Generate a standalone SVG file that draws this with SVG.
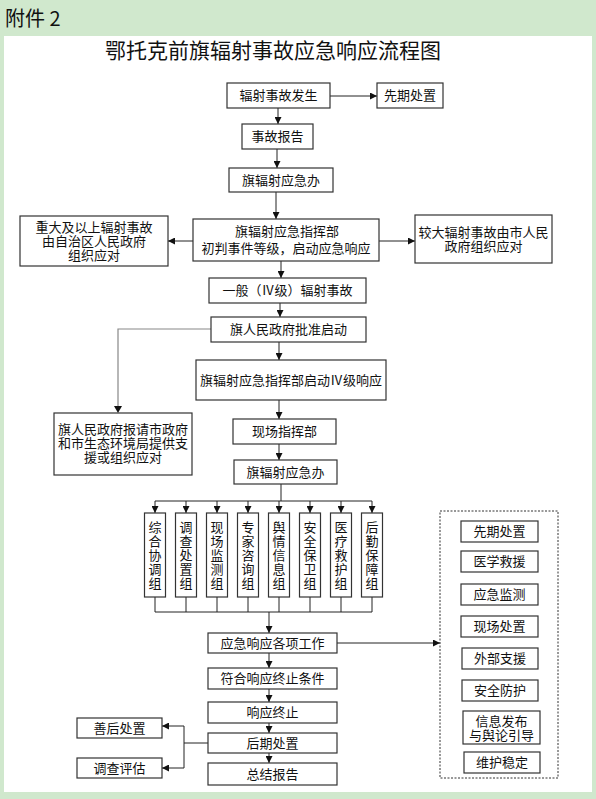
<svg xmlns="http://www.w3.org/2000/svg" width="596" height="799" viewBox="0 0 596 799">
<defs>
<marker id="ah" viewBox="0 0 10 10" refX="10" refY="5" markerWidth="7" markerHeight="7" markerUnits="userSpaceOnUse" orient="auto">
<path d="M0,0 L10,5 L0,10 z" fill="#111"/>
</marker>
<style>
.b{fill:#fff;stroke:#333;stroke-width:1.2}
.t{font-family:"Liberation Serif","Noto Sans CJK SC",serif;font-size:13px;fill:#111;text-anchor:middle;dominant-baseline:central}
.c{fill:none;stroke:#222;stroke-width:1}
.a{fill:none;stroke:#222;stroke-width:1;marker-end:url(#ah)}
.g{fill:none;stroke:#888;stroke-width:1.2}
</style>
</defs>
<rect x="0" y="0" width="596" height="799" fill="#d0e8cd"/>
<rect x="4" y="36" width="588" height="756" fill="#fff"/>
<text x="5" y="26" style="font-family:'Noto Sans CJK SC',sans-serif;font-size:20px;fill:#111">附件 2</text>
<text x="273" y="51" style="font-family:'Liberation Serif','Noto Sans CJK SC',serif;font-size:21px;fill:#111;text-anchor:middle;dominant-baseline:central">鄂托克前旗辐射事故应急响应流程图</text>

<g id="connectors">
<path class="a" d="M330,96 H377"/>
<path class="a" d="M278,108 V124"/>
<path class="a" d="M277,149 V168"/>
<path class="a" d="M276,192 V219"/>
<path class="a" d="M193,241 H168"/>
<path class="a" d="M379,241 H415"/>
<path class="a" d="M281,261 V278"/>
<path class="a" d="M280,303 V317"/>
<path class="g" d="M211,329 H118 V406"/>
<path d="M114,406 L118,413 L122,406 z" fill="#111"/>
<path class="a" d="M279,342 V360"/>
<path class="a" d="M279,400 V419"/>
<path class="a" d="M279,444 V460"/>
<path class="c" d="M281,484 V501 M155,501 H372"/>
<path class="a" d="M155,501 V513"/>
<path class="a" d="M186,501 V513"/>
<path class="a" d="M217,501 V513"/>
<path class="a" d="M248,501 V513"/>
<path class="a" d="M279,501 V513"/>
<path class="a" d="M310,501 V513"/>
<path class="a" d="M341,501 V513"/>
<path class="a" d="M372,501 V513"/>
<path class="c" d="M155,597 V612 M186,597 V612 M217,597 V612 M248,597 V612 M279,597 V612 M310,597 V612 M341,597 V612 M372,597 V612 M155,612 H372"/>
<path class="a" d="M269,612 V633"/>
<path class="a" d="M337,643 H440"/>
<path class="a" d="M269,653 V668"/>
<path class="a" d="M269,689 V702"/>
<path class="a" d="M269,723 V733"/>
<path class="a" d="M269,753 V763"/>
<path class="c" d="M208,743 H184 M184,726 V768"/>
<path class="a" d="M184,726 H162"/>
<path class="a" d="M184,768 H162"/>
</g>

<g id="n1"><rect class="b" x="227" y="83" width="103" height="25"/><text class="t" x="278.5" y="95.5">辐射事故发生</text></g>
<g id="n2"><rect class="b" x="377" y="83" width="66" height="25"/><text class="t" x="410" y="95.5">先期处置</text></g>
<g id="n3"><rect class="b" x="242" y="124" width="71" height="25"/><text class="t" x="277.5" y="136.5">事故报告</text></g>
<g id="n4"><rect class="b" x="229" y="168" width="104" height="24"/><text class="t" x="281" y="180">旗辐射应急办</text></g>
<g id="n5"><rect class="b" x="193" y="219" width="186" height="42"/><text class="t" x="287" y="231">旗辐射应急指挥部</text><text class="t" x="286" y="248">初判事件等级，启动应急响应</text></g>
<g id="n6"><rect class="b" x="20" y="216" width="148" height="50"/><text class="t" x="94" y="227">重大及以上辐射事故</text><text class="t" x="94" y="241">由自治区人民政府</text><text class="t" x="94" y="255">组织应对</text></g>
<g id="n7"><rect class="b" x="415" y="215" width="137" height="48"/><text class="t" x="483.5" y="232">较大辐射事故由市人民</text><text class="t" x="483.5" y="246">政府组织应对</text></g>
<g id="n8"><rect class="b" x="209" y="278" width="157" height="25"/><text class="t" x="287.5" y="290.5">一般（Ⅳ级）辐射事故</text></g>
<g id="n9"><rect class="b" x="211" y="317" width="155" height="25"/><text class="t" x="288.5" y="329.5">旗人民政府批准启动</text></g>
<g id="n10"><rect class="b" x="54" y="413" width="138" height="62"/><text class="t" x="123" y="429">旗人民政府报请市政府</text><text class="t" x="123" y="443">和市生态环境局提供支</text><text class="t" x="123" y="457">援或组织应对</text></g>
<g id="n11"><rect class="b" x="196" y="360" width="190" height="40"/><text class="t" x="291" y="380">旗辐射应急指挥部启动Ⅳ级响应</text></g>
<g id="n12"><rect class="b" x="233" y="419" width="103" height="25"/><text class="t" x="284.5" y="431.5">现场指挥部</text></g>
<g id="n13"><rect class="b" x="234" y="460" width="103" height="24"/><text class="t" x="285.5" y="472">旗辐射应急办</text></g>

<g id="g1"><rect class="b" x="144.5" y="513" width="21" height="84"/><text class="t" x="155" y="527">综</text><text class="t" x="155" y="541">合</text><text class="t" x="155" y="555">协</text><text class="t" x="155" y="569">调</text><text class="t" x="155" y="583">组</text></g>
<g id="g2"><rect class="b" x="175.5" y="513" width="21" height="84"/><text class="t" x="186" y="527">调</text><text class="t" x="186" y="541">查</text><text class="t" x="186" y="555">处</text><text class="t" x="186" y="569">置</text><text class="t" x="186" y="583">组</text></g>
<g id="g3"><rect class="b" x="206.5" y="513" width="21" height="84"/><text class="t" x="217" y="527">现</text><text class="t" x="217" y="541">场</text><text class="t" x="217" y="555">监</text><text class="t" x="217" y="569">测</text><text class="t" x="217" y="583">组</text></g>
<g id="g4"><rect class="b" x="237.5" y="513" width="21" height="84"/><text class="t" x="248" y="527">专</text><text class="t" x="248" y="541">家</text><text class="t" x="248" y="555">咨</text><text class="t" x="248" y="569">询</text><text class="t" x="248" y="583">组</text></g>
<g id="g5"><rect class="b" x="268.5" y="513" width="21" height="84"/><text class="t" x="279" y="527">舆</text><text class="t" x="279" y="541">情</text><text class="t" x="279" y="555">信</text><text class="t" x="279" y="569">息</text><text class="t" x="279" y="583">组</text></g>
<g id="g6"><rect class="b" x="299.5" y="513" width="21" height="84"/><text class="t" x="310" y="527">安</text><text class="t" x="310" y="541">全</text><text class="t" x="310" y="555">保</text><text class="t" x="310" y="569">卫</text><text class="t" x="310" y="583">组</text></g>
<g id="g7"><rect class="b" x="330.5" y="513" width="21" height="84"/><text class="t" x="341" y="527">医</text><text class="t" x="341" y="541">疗</text><text class="t" x="341" y="555">救</text><text class="t" x="341" y="569">护</text><text class="t" x="341" y="583">组</text></g>
<g id="g8"><rect class="b" x="361.5" y="513" width="21" height="84"/><text class="t" x="372" y="527">后</text><text class="t" x="372" y="541">勤</text><text class="t" x="372" y="555">保</text><text class="t" x="372" y="569">障</text><text class="t" x="372" y="583">组</text></g>

<g id="n14"><rect class="b" x="208" y="633" width="129" height="20"/><text class="t" x="272.5" y="643">应急响应各项工作</text></g>
<g id="n15"><rect class="b" x="208" y="668" width="129" height="21"/><text class="t" x="272.5" y="678.5">符合响应终止条件</text></g>
<g id="n16"><rect class="b" x="208" y="702" width="129" height="21"/><text class="t" x="272.5" y="712.5">响应终止</text></g>
<g id="n17"><rect class="b" x="208" y="733" width="129" height="20"/><text class="t" x="272.5" y="743">后期处置</text></g>
<g id="n18"><rect class="b" x="208" y="763" width="129" height="22"/><text class="t" x="272.5" y="774">总结报告</text></g>
<g id="n19"><rect class="b" x="77" y="718" width="85" height="20"/><text class="t" x="119.5" y="728">善后处置</text></g>
<g id="n20"><rect class="b" x="77" y="758" width="85" height="20"/><text class="t" x="119.5" y="768">调查评估</text></g>

<g id="tasks">
<rect x="440" y="511" width="118" height="267" fill="none" stroke="#333" stroke-width="1" stroke-dasharray="2,1.5"/>
<g id="k1"><rect class="b" x="461" y="521" width="77" height="21"/><text class="t" x="499.5" y="531.5">先期处置</text></g>
<g id="k2"><rect class="b" x="461" y="551" width="77" height="21"/><text class="t" x="499.5" y="561.5">医学救援</text></g>
<g id="k3"><rect class="b" x="461" y="584" width="77" height="21"/><text class="t" x="499.5" y="594.5">应急监测</text></g>
<g id="k4"><rect class="b" x="461" y="616" width="77" height="21"/><text class="t" x="499.5" y="626.5">现场处置</text></g>
<g id="k5"><rect class="b" x="462" y="648" width="76" height="21"/><text class="t" x="500" y="658.5">外部支援</text></g>
<g id="k6"><rect class="b" x="462" y="680" width="76" height="21"/><text class="t" x="500" y="690.5">安全防护</text></g>
<g id="k7"><rect class="b" x="463" y="711" width="77" height="33"/><text class="t" x="501.5" y="721">信息发布</text><text class="t" x="501.5" y="735">与舆论引导</text></g>
<g id="k8"><rect class="b" x="464" y="752" width="76" height="21"/><text class="t" x="502" y="762.5">维护稳定</text></g>
</g>
</svg>
